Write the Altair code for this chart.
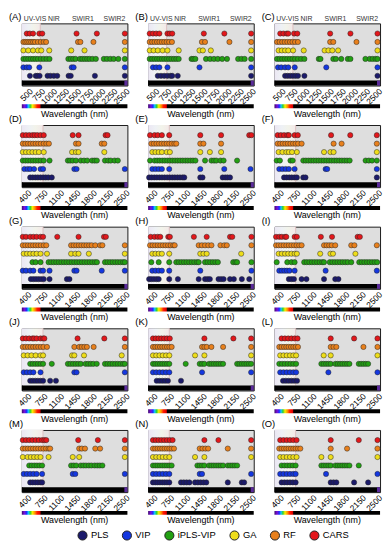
import altair as alt
import pandas as pd

METHODS = ["PLS", "VIP", "iPLS-VIP", "GA", "RF", "CARS"]
COLORS = ["#1b1a6b", "#1437e0", "#22a012", "#eedd1a", "#e8801c", "#e3171b"]
ROW_OF = {"PLS": 1, "VIP": 2, "iPLS-VIP": 3, "GA": 4, "RF": 5, "CARS": 6}

X_DOM_TOP = [367, 2553]
X_DOM = [297, 2555]
TICKS_TOP = [500, 750, 1000, 1250, 1500, 1750, 2000, 2250, 2500]
TICKS = [400, 750, 1100, 1450, 1800, 2150, 2500]
REGION_NAMES = ["UV-VIS", "NIR", "SWIR1", "SWIR2"]
REGION_POS = [640, 1030, 1630, 2285]
VIS_EDGE = 750
END_MARK = 2490

A = {
    "CARS": [470, 530, 600, 730, 790, 1500, 1920, 2500],
    "RF": [400, 440, 480, 520, 560, 600, 640, 700, 760, 820, 870, 1530, 1580, 1850, 2500],
    "GA": [400, 500, 600, 700, 770, 935, 1390, 1665, 2500],
    "iPLS-VIP": [400, 450, 500, 550, 600, 650, 700, 760, 820, 880, 940, 1330, 1380, 1430, 1480,
                 1570, 1620, 1670, 1720, 1770, 1830, 1900, 2065, 2130, 2200, 2270, 2365, 2500],
    "VIP": [400, 470, 520, 730, 1400, 1440, 2500],
    "PLS": [535, 655, 690, 735, 900, 960, 1030, 1100, 1335, 1380, 1880, 2500],
}
B = {
    "CARS": [400, 467, 533, 600, 767, 813, 866, 1520, 1945, 2500],
    "RF": [400, 450, 500, 550, 600, 650, 700, 750, 800, 860, 1480, 1545, 2050, 2500],
    "GA": [400, 480, 567, 667, 767, 1000, 1430, 1500, 1665, 2500],
    "iPLS-VIP": [400, 450, 500, 550, 600, 650, 700, 750, 800, 850, 900, 950, 1000, 1265, 1300, 1345,
                 1565, 1650, 1730, 1810, 1900, 2000, 2230, 2300, 2365, 2500],
    "VIP": [467, 533, 600, 767, 1430, 2500],
    "PLS": [567, 633, 700, 767, 833, 866, 980, 2500],
}
C = {
    "CARS": [487, 553, 620, 653, 773, 840, 1520, 1940, 2500],
    "RF": [420, 473, 527, 580, 633, 687, 740, 793, 853, 1520, 1585, 2065, 2500],
    "GA": [453, 520, 587, 653, 753, 973, 1405, 1485, 1565, 1685, 2500],
    "iPLS-VIP": [420, 473, 527, 580, 633, 687, 740, 793, 853, 920, 987, 1285, 1320, 1585, 1640, 1750,
                 1885, 1940, 2250, 2340, 2400, 2460, 2500],
    "VIP": [440, 507, 587, 653, 787, 1440, 2500],
    "PLS": [587, 640, 693, 747, 800, 853, 987, 2500],
}
D = {
    "CARS": [318, 387, 455, 524, 573, 628, 697, 766, 1385, 1510, 2088, 2130],
    "RF": [318, 373, 428, 483, 538, 593, 648, 704, 766, 821, 876, 1455, 1510, 2006, 2061],
    "GA": [318, 387, 455, 524, 593, 662, 766, 1372, 1455, 1510, 2061],
    "iPLS-VIP": [318, 373, 428, 483, 538, 593, 648, 704, 766, 890, 1282, 1330, 1385, 1455,
                 1558, 1627, 1696, 1799, 1854, 1902, 2075, 2144, 2199, 2281, 2350],
    "VIP": [352, 421, 476, 559, 697, 752, 1420, 1468, 2500],
    "PLS": [476, 531, 586, 641, 697, 752, 807, 862, 938],
}
E = {
    "CARS": [338, 434, 502, 591, 748, 1412, 1857, 2459, 2506],
    "RF": [365, 420, 475, 530, 585, 640, 694, 748, 803, 858, 899, 1412, 1480, 1857],
    "GA": [386, 454, 523, 591, 694, 762, 1412, 1617, 1857],
    "iPLS-VIP": [338, 434, 489, 544, 599, 653, 708, 763, 817, 872, 927, 981, 1036, 1091, 1145, 1200,
                 1255, 1309, 1514, 1651, 1706, 1754, 1843, 1911, 2199],
    "VIP": [386, 454, 523, 591, 748, 1412, 1925, 2486],
    "PLS": [318, 373, 428, 483, 538, 593, 648, 703, 758, 813, 868, 923, 978, 1033, 1070,
            1412, 1460, 1891, 1945, 1993, 2048],
}
F = {
    "CARS": [365, 434, 502, 571, 605, 728, 796, 1508, 1918, 2486],
    "RF": [365, 420, 475, 530, 584, 639, 694, 749, 803, 878, 1562, 1733, 2486],
    "GA": [386, 468, 550, 605, 673, 776, 1357, 1494, 1562, 2486],
    "iPLS-VIP": [345, 414, 639, 687, 913, 968, 1023, 1078, 1133, 1188, 1243, 1298, 1353, 1408, 1463,
                 1518, 1573, 1628, 1683, 1738, 1793, 1848, 1905, 2246, 2315, 2384, 2486],
    "VIP": [400, 468, 537, 605, 728, 1391, 1425, 2486],
    "PLS": [502, 557, 612, 667, 722, 776, 913, 961, 2486],
}
G = {
    "CARS": [318, 387, 476, 545, 614, 697, 752, 1055, 1510, 2054, 2095],
    "RF": [318, 373, 428, 483, 538, 593, 648, 704, 766, 820, 1351, 1406, 1461, 1516, 1571, 1626,
           1681, 1736, 1791, 1868, 1971, 2020, 2500],
    "GA": [338, 407, 476, 545, 614, 697, 835, 1351, 1441, 1510, 1730, 2500],
    "iPLS-VIP": [524, 593, 697, 869, 924, 979, 1034, 1089, 1144, 1199, 1254, 1309, 1364, 1419, 1474,
                 1529, 1584, 1639, 1694, 1749, 1804, 1859, 1903, 2075, 2130, 2185, 2240, 2295,
                 2350, 2405, 2460, 2500],
    "VIP": [318, 387, 476, 545, 697, 752, 890, 1420, 1468, 2006, 2500],
    "PLS": [490, 545, 600, 655, 710, 766, 890, 1261, 1316],
}
H_ = {
    "CARS": [352, 434, 502, 557, 728, 762, 1275, 1549, 2048, 2096, 2506],
    "RF": [338, 393, 448, 503, 558, 613, 668, 723, 778, 833, 865, 1378, 1446, 1514, 1583, 1651,
           1843, 1925, 1980, 2506],
    "GA": [386, 454, 523, 591, 748, 1412, 1480, 1549, 2287],
    "iPLS-VIP": [365, 523, 748, 899, 954, 1009, 1064, 1119, 1174, 1229, 1284, 1339, 1378, 1514,
                 1569, 1624, 1679, 1734, 1788, 2116, 2164, 2199, 2506],
    "VIP": [386, 454, 523, 591, 748, 1412, 2506],
    "PLS": [318, 365, 420, 475, 523, 748, 933, 1378, 1514, 1569, 1617, 1802, 1857, 1911,
            2048, 2130, 2301, 2459],
}
I = {
    "CARS": [331, 400, 455, 523, 550, 728, 776, 1289, 1528, 2075, 2123],
    "RF": [331, 386, 441, 496, 551, 605, 660, 715, 770, 825, 878, 1357, 1412, 1467, 1522, 1597,
           1939, 2007, 2486],
    "GA": [386, 455, 523, 591, 660, 728, 776, 1275, 1494, 1549, 2028],
    "iPLS-VIP": [345, 571, 660, 728, 933, 988, 1043, 1098, 1153, 1208, 1263, 1318, 1357, 1480, 1535,
                 1590, 1645, 1700, 1755, 1810, 1865, 1939, 2110, 2165, 2220, 2275, 2330, 2385,
                 2440, 2493],
    "VIP": [400, 455, 510, 564, 619, 728, 1391, 2486],
    "PLS": [605, 660, 714, 878, 981, 1357, 1597, 1665],
}
J = {
    "CARS": [318, 387, 455, 524, 559, 614, 697, 752, 779, 1489, 2061, 2500],
    "RF": [318, 373, 428, 483, 538, 593, 648, 704, 759, 835, 1420, 1524, 1579, 1634, 1689, 1833, 2500],
    "GA": [338, 421, 504, 593, 697, 752, 1372, 1420, 1627, 2433],
    "iPLS-VIP": [476, 531, 586, 641, 697, 752, 938, 1282, 1337, 1392, 1447, 1502, 1558, 1661, 1716,
                 1771, 1826, 1899, 2075, 2130, 2185, 2240, 2295, 2350, 2405, 2460, 2500],
    "VIP": [338, 407, 476, 545, 697, 1420, 1468, 2500],
    "PLS": [476, 531, 586, 641, 697, 752, 903, 1027],
}
K = {
    "CARS": [400, 460, 520, 580, 640, 700, 760, 1500, 2120, 2500],
    "RF": [400, 450, 500, 550, 600, 650, 700, 750, 800, 1450, 1500, 1550, 1650, 1900, 2500],
    "GA": [400, 470, 540, 610, 680, 750, 1300, 1500, 2500],
    "iPLS-VIP": [400, 450, 500, 550, 600, 650, 700, 750, 1100, 1400, 1450, 1500, 1600, 1650, 1700,
                 1750, 1800, 1850, 1900, 2200, 2250, 2300, 2350, 2400, 2450, 2500],
    "VIP": [400, 470, 540, 610, 680, 750, 1450, 2500],
    "PLS": [480, 540, 600, 660, 720, 1000],
}
L = {
    "CARS": [450, 520, 590, 660, 730, 790, 1500, 2000, 2500],
    "RF": [400, 450, 500, 550, 600, 650, 700, 750, 800, 1500, 1560, 1620, 2200, 2500],
    "GA": [420, 490, 560, 630, 700, 760, 1350, 1500, 2500],
    "iPLS-VIP": [400, 460, 520, 580, 640, 700, 760, 1300, 1350, 1400, 1450, 1500, 1600, 1650, 1700,
                 1750, 1800, 1850, 1900, 2100, 2150, 2200, 2250, 2300],
    "VIP": [420, 490, 560, 630, 700, 760, 1450, 2500],
    "PLS": [480, 540, 600, 660, 720, 780],
}
M = {
    "CARS": [318, 387, 455, 524, 593, 662, 731, 779, 820, 1503, 1923, 2500],
    "RF": [318, 373, 428, 483, 538, 593, 648, 704, 759, 814, 869, 903, 1524, 1579, 1648, 1868, 1971, 2500],
    "GA": [318, 421, 490, 559, 628, 697, 869, 1386, 1524, 2500],
    "iPLS-VIP": [455, 510, 565, 620, 675, 731, 1351, 1406, 1461, 1558, 1613, 1668, 1730, 1785,
                 1854, 1909, 1964, 2020],
    "VIP": [338, 407, 476, 545, 614, 731, 1386, 1441, 2500],
    "PLS": [476, 531, 586, 641, 696, 731],
}
N = {
    "CARS": [400, 460, 520, 580, 640, 700, 760, 820, 1500, 1800, 2500],
    "RF": [400, 450, 500, 550, 600, 650, 700, 750, 800, 850, 1400, 1460, 1520, 1580, 2000, 2500],
    "GA": [400, 470, 540, 610, 680, 750, 1300, 1500, 2500],
    "iPLS-VIP": [400, 450, 500, 550, 600, 650, 700, 750, 800, 1350, 1400, 1450, 1500, 1600, 1650,
                 1700, 1750, 1800, 1850, 1900, 2000, 2050, 2100, 2150, 2200],
    "VIP": [400, 470, 540, 610, 680, 750, 1400, 1450, 2500],
    "PLS": [400, 450, 500, 550, 600, 650, 700, 750, 1000, 1060, 1120, 1180, 1300, 1360, 1420,
            1480, 1540, 2000, 2300, 2350],
}
O = {
    "CARS": [420, 490, 560, 630, 700, 770, 1500, 2100, 2500],
    "RF": [400, 450, 500, 550, 600, 650, 700, 750, 800, 850, 1500, 1850, 2500],
    "GA": [420, 490, 560, 630, 700, 770, 1300, 1500, 2500],
    "iPLS-VIP": [450, 510, 570, 630, 690, 750, 1300, 1350, 1400, 1450, 1500, 1600, 1650, 1700,
                 1750, 1800, 1850, 1900, 2100],
    "VIP": [420, 490, 560, 630, 700, 750, 1400, 2500],
    "PLS": [450, 510, 570, 630, 690, 750, 1500, 1560, 1620, 2000, 2300],
}

PANELS = [("(A)", A), ("(B)", B), ("(C)", C), ("(D)", D), ("(E)", E), ("(F)", F),
          ("(G)", G), ("(H)", H_), ("(I)", I), ("(J)", J), ("(K)", K), ("(L)", L),
          ("(M)", M), ("(N)", N), ("(O)", O)]

W, HT = 107, 63
BAR = 5
SPEC_GAP = 19
SPEC_H = 4
ROW_SPACING = 40
FONT = "Liberation Sans"

VIS_GRAD = alt.LinearGradient(
    gradient="linear", x1=0, x2=1, y1=0, y2=0,
    stops=[alt.GradientStop(color="#ebe6f3", offset=0),
           alt.GradientStop(color="#eef1f5", offset=0.35),
           alt.GradientStop(color="#f2f3ea", offset=0.65),
           alt.GradientStop(color="#f3e8e8", offset=1)])

SPEC_GRAD = alt.LinearGradient(
    gradient="linear", x1=0, x2=1, y1=0, y2=0,
    stops=[alt.GradientStop(color="#3d0a70", offset=0),
           alt.GradientStop(color="#7a10d8", offset=0.025),
           alt.GradientStop(color="#1a2cff", offset=0.045),
           alt.GradientStop(color="#10c8ff", offset=0.062),
           alt.GradientStop(color="#30d030", offset=0.08),
           alt.GradientStop(color="#f8f000", offset=0.1),
           alt.GradientStop(color="#ff8a00", offset=0.125),
           alt.GradientStop(color="#ff1a00", offset=0.145),
           alt.GradientStop(color="#e00000", offset=0.172),
           alt.GradientStop(color="#000000", offset=0.182),
           alt.GradientStop(color="#000000", offset=1)])

YS = alt.Scale(domain=[-0.15, 7.2], nice=False, zero=False)

LEGEND_X = 56
LEGEND_Y = 4 * (HT + ROW_SPACING) + HT + SPEC_GAP + SPEC_H + 15


def panel(label, data, first_row):
    dom = X_DOM_TOP if first_row else X_DOM
    ticks = TICKS_TOP if first_row else TICKS
    xs = alt.Scale(domain=dom, nice=False, zero=False)
    recs = [{"wl": w, "method": m, "row": ROW_OF[m]} for m in METHODS for w in data[m]]
    df = pd.DataFrame(recs)
    one = pd.DataFrame({"a": [0]})

    vis = alt.Chart(pd.DataFrame({"a": [dom[0]], "b": [VIS_EDGE]})).mark_rect(
        color=VIS_GRAD).encode(
        x=alt.X("a:Q", scale=xs, axis=None), x2="b",
        y=alt.value(0), y2=alt.value(HT - BAR))
    edge = alt.Chart(pd.DataFrame({"a": [VIS_EDGE]})).mark_rule(
        color="#dcc0c0", strokeWidth=1).encode(
        x=alt.X("a:Q", scale=xs, axis=None), y=alt.value(0), y2=alt.value(HT - BAR))
    bar = alt.Chart(one).mark_rect(color="black").encode(
        x=alt.value(0), x2=alt.value(W), y=alt.value(HT - BAR), y2=alt.value(HT))
    tip = alt.Chart(pd.DataFrame({"a": [END_MARK], "b": [dom[1]]})).mark_rect(
        color="#5a2a9a").encode(
        x=alt.X("a:Q", scale=xs, axis=None), x2="b",
        y=alt.value(HT - BAR), y2=alt.value(HT))
    spec = alt.Chart(one).mark_rect(color=SPEC_GRAD).encode(
        x=alt.value(0), x2=alt.value(W),
        y=alt.value(HT + SPEC_GAP), y2=alt.value(HT + SPEC_GAP + SPEC_H))
    spec_title = alt.Chart(pd.DataFrame({"t": ["Wavelength (nm)"]})).mark_text(
        fontSize=9, font=FONT, baseline="top", align="center", color="black").encode(
        x=alt.value(W / 2), y=alt.value(HT + SPEC_GAP + SPEC_H + 1.5), text="t:N")
    tag = alt.Chart(pd.DataFrame({"t": [label]})).mark_text(
        fontSize=9.5, font=FONT, baseline="bottom", align="left", color="black").encode(
        x=alt.value(-13), y=alt.value(-1), text="t:N")
    dots = alt.Chart(df).mark_point(
        filled=True, shape="circle", size=28, opacity=1,
        stroke="#262626", strokeWidth=0.5).encode(
        x=alt.X("wl:Q", scale=xs,
                axis=alt.Axis(values=ticks, format="d", labelAngle=-45, domain=False,
                              ticks=False, grid=False, title=None, labelFontSize=8.5,
                              labelFont=FONT, labelColor="black", labelPadding=1,
                              labelOverlap=False, labelFlush=False)),
        y=alt.Y("row:Q", scale=YS, axis=None),
        color=alt.Color("method:N", scale=alt.Scale(domain=METHODS, range=COLORS),
                        legend=alt.Legend(title=None, orient="none", direction="horizontal",
                                          legendX=LEGEND_X, legendY=LEGEND_Y, padding=0,
                                          symbolType="circle", symbolSize=85,
                                          symbolStrokeColor="#222222", symbolStrokeWidth=1,
                                          symbolOpacity=1,
                                          labelFontSize=9.5, labelFont=FONT, labelColor="black",
                                          columnPadding=11, labelOffset=3)))
    layers = [vis, edge, dots, bar, tip, spec, spec_title, tag]
    if first_row:
        regions = alt.Chart(pd.DataFrame({"t": REGION_NAMES, "x": REGION_POS})).mark_text(
            fontSize=7, baseline="bottom", color="#333333", font=FONT).encode(
            x=alt.X("x:Q", scale=xs, axis=None), y=alt.value(-1.5), text="t:N")
        layers.append(regions)
    return alt.layer(*layers).resolve_axis(x="independent").properties(width=W, height=HT)


cells = [panel(lbl, d, i < 3) for i, (lbl, d) in enumerate(PANELS)]

chart = alt.concat(*cells, columns=3, spacing={"row": ROW_SPACING, "column": 21},
                   bounds="flush").resolve_scale(
    x="independent", y="independent").properties(
    padding={"left": 0, "top": 0, "right": 0, "bottom": 0}).configure_view(
    fill="#dedede", stroke="#1a1a1a", strokeWidth=1)

chart.save("out.html", embed_options={"renderer": "svg", "actions": False})
